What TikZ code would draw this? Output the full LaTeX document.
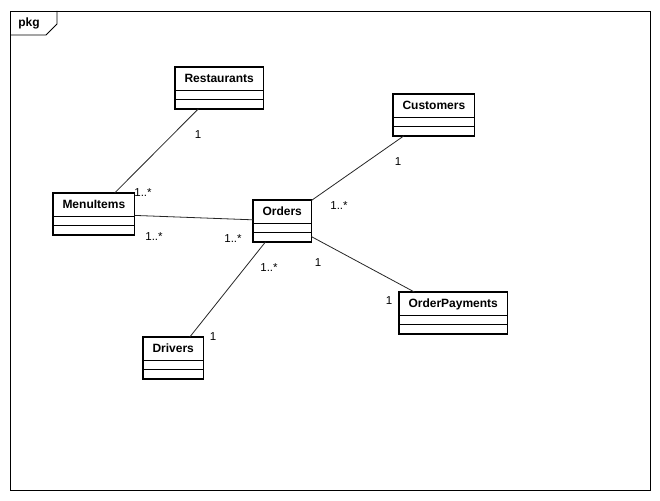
\documentclass[tikz,border=0pt]{standalone}
\usepackage{fontspec}
\setmainfont{Liberation Sans}
\usetikzlibrary{shapes.multipart}

\newcommand{\cname}[1]{\rule[-7pt]{0pt}{22pt}#1}

\begin{document}
\begin{tikzpicture}[x=1pt, y=-1pt,
    umlclass/.style={draw, line width=1.6pt, rectangle split, rectangle split parts=3,
        rectangle split draw splits=false, rectangle split empty part height=7.5pt,
        rectangle split empty part depth=0pt, inner xsep=9.5pt, inner ysep=0pt, outer sep=0pt,
        anchor=north west, font=\fontsize{12}{14}\selectfont\bfseries},
    splitline/.style={line width=0.8pt},
    assoc/.style={draw=black!85, line width=0.8pt},
    mult/.style={inner sep=0pt, font=\fontsize{11.5}{13}\selectfont}]
        \useasboundingbox (0,0) rectangle (660,500);

        % package frame
        \draw[line width=0.8pt] (10,11) rectangle (650,490);
        \draw[line width=0.8pt] (10,35) -- (46,35) -- (57,24) -- (57,11);
        \node[font=\fontsize{12}{14}\selectfont\bfseries, inner sep=0pt] (pkg) at (29,23) {pkg};

        \node[umlclass] (restaurants) at (175,67) {\cname{Restaurants}};
        \node[umlclass] (menuitems) at (53,193) {\cname{MenuItems}};
        \node[umlclass] (orders) at (253,200) {\cname{Orders}};
        \node[umlclass] (customers) at (393,94) {\cname{Customers}};
        \node[umlclass] (payments) at (399,292) {\cname{OrderPayments}};
        \node[umlclass] (drivers) at (143,337) {\cname{Drivers}};

        \foreach \c in {restaurants,menuitems,orders,customers,payments,drivers}
            \draw[splitline] (\c.text split west) -- (\c.text split east)
                (\c.two split west) -- (\c.two split east);

        \draw[assoc] (restaurants) -- (menuitems);
        \draw[assoc] (menuitems) -- (orders);
        \draw[assoc] (customers) -- (orders);
        \draw[assoc] (orders) -- (drivers);
        \draw[assoc] (orders) -- (payments);

        \node[mult] (rm1) at (198,135) {1};
        \node[mult] (rm2) at (143,193) {1..*};
        \node[mult] (mo1) at (154,237) {1..*};
        \node[mult] (mo2) at (233,239) {1..*};
        \node[mult] (co1) at (398,162) {1};
        \node[mult] (co2) at (339,206) {1..*};
        \node[mult] (od1) at (269,268) {1..*};
        \node[mult] (od2) at (213,337) {1};
        \node[mult] (op1) at (318,263) {1};
        \node[mult] (op2) at (389,301) {1};
    \end{tikzpicture}
\end{document}
